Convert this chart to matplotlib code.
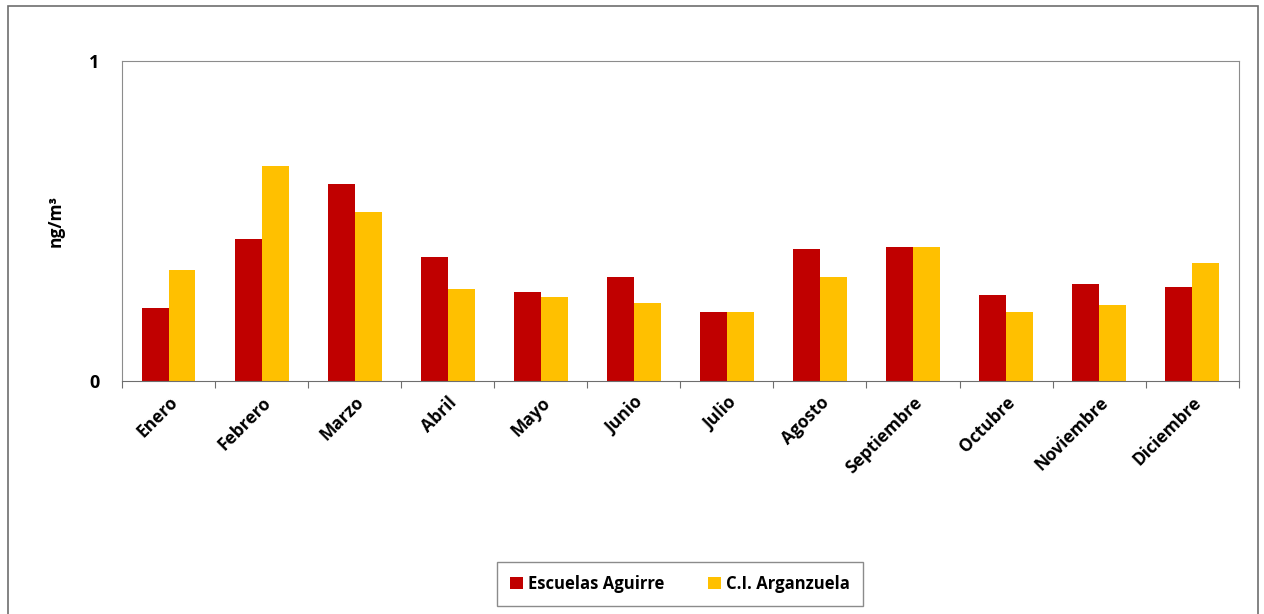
import numpy as np
import matplotlib
matplotlib.use("Agg")
import matplotlib.pyplot as plt
from matplotlib.patches import Rectangle

# monthly values
months = ["Enero", "Febrero", "Marzo", "Abril", "Mayo", "Junio", "Julio",
          "Agosto", "Septiembre", "Octubre", "Noviembre", "Diciembre"]
escuelas_aguirre = [0.227, 0.443, 0.616, 0.386, 0.279, 0.324, 0.216,
                    0.412, 0.420, 0.268, 0.302, 0.294]
ci_arganzuela = [0.347, 0.673, 0.527, 0.287, 0.261, 0.245, 0.216,
                 0.324, 0.420, 0.216, 0.236, 0.368]
series_names = ["Escuelas Aguirre", "C.I. Arganzuela"]

plt.rcParams["font.family"] = ["Open Sans", "DejaVu Sans"]

fig = plt.figure(figsize=(12.64, 6.14), dpi=100)
ax = fig.add_axes([0.0965, 0.3795, 0.8835, 0.5212])

# outer chart border
fig.patches.append(Rectangle((8 / 1264, -0.05), 1250 / 1264, 1.04,
                             transform=fig.transFigure, fill=False,
                             edgecolor="#6e6e6e", linewidth=1.2))

x = np.arange(len(months))
w = 0.29
ax.bar(x - w / 2, escuelas_aguirre, w, color="#c00000", label=series_names[0])
ax.bar(x + w / 2, ci_arganzuela, w, color="#ffc000", label=series_names[1])

ax.set_xlim(-0.5, len(months) - 0.5)
ax.set_ylim(0, 1)
ax.set_yticks([0, 1])
ax.set_yticklabels(["0", "1"], fontsize=13, fontweight="bold")
ax.tick_params(axis="y", length=0, pad=16)

# category boundary ticks, labels at centres
ax.set_xticks(np.arange(-0.5, len(months), 1.0))
ax.set_xticklabels([])
ax.set_xticks(x, minor=True)
ax.set_xticklabels(months, minor=True, rotation=45, ha="right",
                   rotation_mode="anchor", fontsize=12.5, fontweight="bold")
ax.tick_params(axis="x", which="major", length=5, color="#6e6e6e")
ax.tick_params(axis="x", which="minor", length=0, pad=9)

for side in ["left", "right", "top"]:
    ax.spines[side].set_color("#8c8c8c")
ax.spines["bottom"].set_color("#6e6e6e")

ax.set_ylabel("ng/m³", fontsize=12.5, fontweight="bold", labelpad=18)

fig.legend(loc="center", bbox_to_anchor=(0.538, 0.049), ncol=2,
           frameon=True, fancybox=False, edgecolor="#6e6e6e",
           prop={"weight": "bold", "size": 12}, handlelength=0.8,
           handleheight=0.8, handletextpad=0.3, columnspacing=2.6,
           borderpad=0.8, borderaxespad=0)

fig.savefig("out.png", dpi=100)
